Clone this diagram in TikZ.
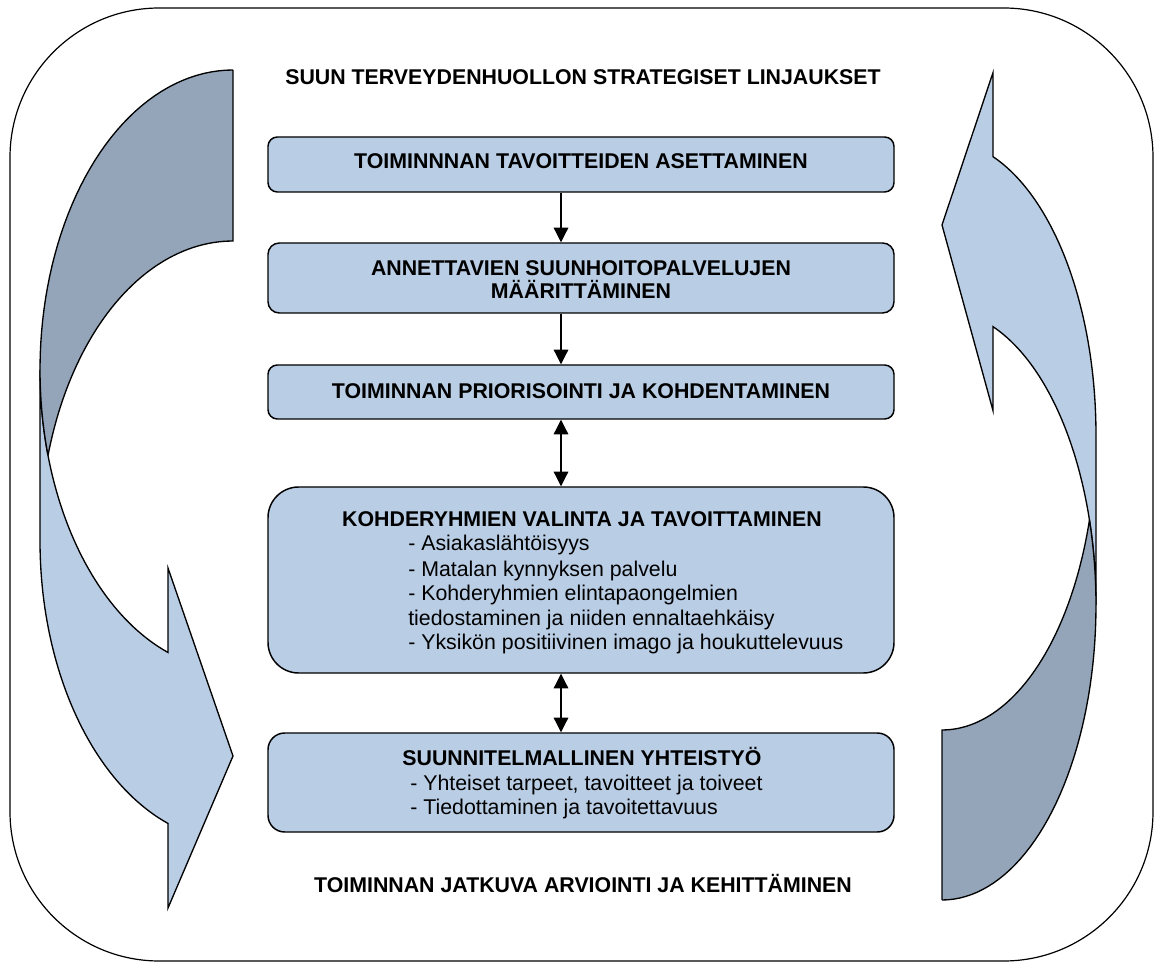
\documentclass[tikz,border=0pt]{standalone}
\usepackage{fontspec}
\setmainfont{Liberation Sans}
\usetikzlibrary{arrows.meta,calc}
\definecolor{boxblue}{RGB}{185,205,229}
\definecolor{darkblue}{RGB}{148,165,185}
\begin{document}
\begin{tikzpicture}[x=0.75pt,y=-0.75pt,
  boxstyle/.style={draw=black,line width=1.1pt,fill=boxblue,inner sep=0pt,minimum width=469.5pt},
  hdr/.style={font=\bfseries\fontsize{16}{19}\selectfont,inner sep=0pt,anchor=base},
  itemtxt/.style={font=\fontsize{16}{19}\selectfont,inner sep=0pt,anchor=base west},
  conn/.style={line width=0.9pt,-{Triangle[length=11pt,width=11pt]}},
  dconn/.style={line width=0.9pt,{Triangle[length=11pt,width=11pt]}-{Triangle[length=11pt,width=11pt]}},
  lightpart/.style={draw=black,line width=1pt,fill=boxblue,line join=miter},
  darkpart/.style={draw=black,line width=1pt,fill=darkblue,line join=miter}]
\useasboundingbox (0,0) rectangle (1154,962);
% outer frame
\draw[line width=0.9pt,rounded corners=112pt] (10,8) rectangle (1153,961);
% left curved arrow (front)
\path[lightpart] (40,370)
  -- plot[domain=180:109.68,samples=50,variable=\t] ({233+193*cos(\t)},{370+300*sin(\t)})
  -- (168,568) -- (233,756) -- (168,908) -- (168,823.5)
  -- plot[domain=109.68:180,samples=50,variable=\t] ({233+193*cos(\t)},{541+300*sin(\t)})
  -- cycle;
% left curved arrow (back)
\path[darkpart] (233,70) -- (233,241)
  -- plot[domain=270:196.56,samples=50,variable=\t] ({233+193*cos(\t)},{541+300*sin(\t)})
  -- plot[domain=163.44:270,samples=50,variable=\t] ({233+193*cos(\t)},{370+300*sin(\t)})
  -- cycle;
% right curved arrow (front)
\path[lightpart] (1096,605)
  -- plot[domain=0:-70.66,samples=50,variable=\t] ({942+154*cos(\t)},{605+295*sin(\t)})
  -- (993,410.6) -- (942,225) -- (993,72.6) -- (993,156.6)
  -- plot[domain=-70.66:0,samples=50,variable=\t] ({942+154*cos(\t)},{435+295*sin(\t)})
  -- cycle;
% right curved arrow (back)
\path[darkpart] (942,900) -- (942,730)
  -- plot[domain=90:16.76,samples=50,variable=\t] ({942+154*cos(\t)},{435+295*sin(\t)})
  -- plot[domain=-16.76:90,samples=50,variable=\t] ({942+154*cos(\t)},{605+295*sin(\t)})
  -- cycle;
% headers
\node[hdr] (top) at (583,85) {SUUN TERVEYDENHUOLLON STRATEGISET LINJAUKSET};
\node[hdr] (bottom) at (583,892) {TOIMINNAN JATKUVA ARVIOINTI JA KEHITTÄMINEN};
% boxes
\node[boxstyle,minimum height=41.25pt,rounded corners=7pt] (b1) at (581,164.5) {};
\node[boxstyle,minimum height=52.5pt,rounded corners=8.5pt] (b2) at (581,278) {};
\node[boxstyle,minimum height=40.5pt,rounded corners=7pt] (b3) at (581,392) {};
\node[boxstyle,minimum height=139.5pt,rounded corners=23pt] (b4) at (581,580) {};
\node[boxstyle,minimum height=74.25pt,rounded corners=12.5pt] (b5) at (581,782.5) {};
% box texts
\node[hdr] (b1t) at (581,169) {TOIMINNNAN TAVOITTEIDEN ASETTAMINEN};
\node[hdr] (b2t) at (581,275.5) {ANNETTAVIEN SUUNHOITOPALVELUJEN};
\node[hdr] (b2u) at (581,298.5) {MÄÄRITTÄMINEN};
\node[hdr] (b3t) at (581,398.5) {TOIMINNAN PRIORISOINTI JA KOHDENTAMINEN};
\node[hdr] (b4t) at (582,527) {KOHDERYHMIEN VALINTA JA TAVOITTAMINEN};
\node[itemtxt] (b4a) at (408,551) {- Asiakaslähtöisyys};
\node[itemtxt] (b4b) at (408,576) {- Matalan kynnyksen palvelu};
\node[itemtxt] (b4c) at (408,600) {- Kohderyhmien elintapaongelmien};
\node[itemtxt] (b4d) at (408,625) {tiedostaminen ja niiden ennaltaehkäisy};
\node[itemtxt] (b4e) at (408,649) {- Yksikön positiivinen imago ja houkuttelevuus};
\node[hdr] (b5t) at (582,765) {SUUNNITELMALLINEN YHTEISTYÖ};
\node[itemtxt] (b5a) at (410,790) {- Yhteiset tarpeet, tavoitteet ja toiveet};
\node[itemtxt] (b5b) at (410,814) {- Tiedottaminen ja tavoitettavuus};
% connectors
\coordinate (ax) at (561,0);
\draw[conn] (b1.south -| ax) -- (b2.north -| ax);
\draw[conn] (b2.south -| ax) -- (b3.north -| ax);
\draw[dconn] (b3.south -| ax) -- (b4.north -| ax);
\draw[dconn] (b4.south -| ax) -- (b5.north -| ax);
\end{tikzpicture}
\end{document}
